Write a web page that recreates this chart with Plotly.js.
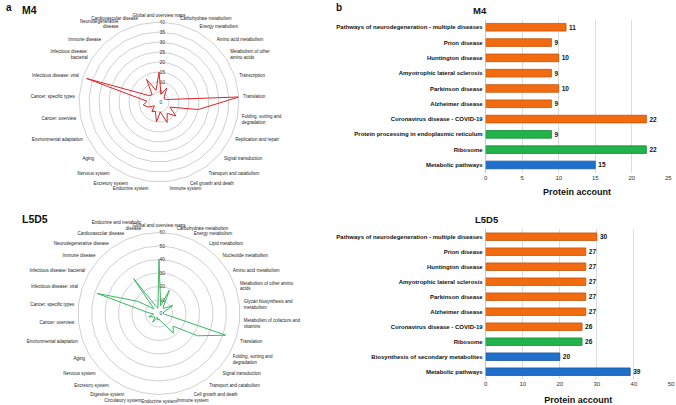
<!DOCTYPE html>
<html>
<head>
<meta charset="utf-8">
<script src="https://cdn.plot.ly/plotly-3.0.1.min.js"></script>
<style>html,body{margin:0;padding:0;background:#fff;}#chart{width:676px;height:405px;}</style>
</head>
<body>
<div id="chart"></div>
<script>
// ---------- Data ----------
const m4RadarCats = ["Global and overview maps","Carbohydrate metabolism","Energy metabolism","Amino acid metabolism","Metabolism of other amino acids","Transcription","Translation","Folding, sorting and degradation","Replication and repair","Signal transduction","Transport and catabolism","Cell growth and death","Immune system","Endocrine system","Excretory system","Nervous system","Aging","Environmental adaptation","Cancer: overview","Cancer: specific types","Infectious disease: viral","Infectious disease: bacterial","Immune disease","Neurodegenerative disease","Cardiovascular disease"];
const m4RadarLabels = ["Global and overview maps","Carbohydrate metabolism","Energy metabolism","Amino acid metabolism","Metabolism of other<br>amino acids","Transcription","Translation","Folding, sorting and<br>degradation","Replication and repair","Signal transduction","Transport and catabolism","Cell growth and death","Immune system","Endocrine system","Excretory system","Nervous system","Aging","Environmental adaptation","Cancer: overview","Cancer: specific types","Infectious disease: viral","Infectious disease:<br>bacterial","Immune disease","Neurodegenerative<br>disease","Cardiovascular disease"];
const m4RadarValues = [15,4,8,4,3,4,40,20,6,11,7,11,5,10,5,6,3,6,8,6,38,6,5,13,6];

const l5RadarCats = ["Global and overview maps","Carbohydrate metabolism","Energy metabolism","Lipid metabolism","Nucleotide metabolism","Amino acid metabolism","Metabolism of other amino acids","Glycan biosynthesis and metabolism","Metabolism of cofactors and vitamins","Translation","Folding, sorting and degradation","Signal transduction","Transport and catabolism","Cell growth and death","Immune system","Endocrine system","Circulatory system","Digestive system","Excretory system","Nervous system","Aging","Environmental adaptation","Cancer: overview","Cancer: specific types","Infectious disease: viral","Infectious disease: bacterial","Immune disease","Neurodegenerative disease","Cardiovascular disease","Endocrine and metabolic disease"];
const l5RadarLabels = ["Global and overview maps","Carbohydrate metabolism","Energy metabolism","Lipid metabolism","Nucleotide metabolism","Amino acid metabolism","Metabolism of other amino<br>acids","Glycan biosynthesis and<br>metabolism","Metabolism of cofactors and<br>vitamins","Translation","Folding, sorting and<br>degradation","Signal transduction","Transport and catabolism","Cell growth and death","Immune system","Endocrine system","Circulatory system","Digestive system","Excretory system","Nervous system","Aging","Environmental adaptation","Cancer: overview","Cancer: specific types","Infectious disease: viral","Infectious disease: bacterial","Immune disease","Neurodegenerative disease","Cardiovascular disease","Endocrine and metabolic<br>disease"];
const l5RadarValues = [40,6,19,5,6,12,4,3,4,52,33,14,18,8,6,4,5,3,8,4,5,8,4,9,48,18,5,32,6,4];

const m4BarCats = ["Pathways of neurodegeneration - multiple diseases","Prion disease","Huntington disease","Amyotrophic lateral sclerosis","Parkinson disease","Alzheimer disease","Coronavirus disease - COVID-19","Protein processing in endoplasmic reticulum","Ribosome","Metabolic pathways"];
const m4BarValues = [11,9,10,9,10,9,22,9,22,15];
const m4BarGroups = ["disease","disease","disease","disease","disease","disease","disease","genetic","genetic","metabolism"];

const l5BarCats = ["Pathways of neurodegeneration - multiple diseases","Prion disease","Huntington disease","Amyotrophic lateral sclerosis","Parkinson disease","Alzheimer disease","Coronavirus disease - COVID-19","Ribosome","Biosynthesis of secondary metabolites","Metabolic pathways"];
const l5BarValues = [30,27,27,27,27,27,26,26,20,39];
const l5BarGroups = ["disease","disease","disease","disease","disease","disease","disease","genetic","metabolism","metabolism"];

// ---------- Style ----------
const W = 676, H = 405;
const px = x => x / W;
const py = y => 1 - y / H;
const FONT = "Liberation Sans, Arial, sans-serif";
const groupColor = {disease: "#F26B10", genetic: "#22B34B", metabolism: "#1F70CC"};
const groupLine = {disease: "#C4530A", genetic: "#178A37", metabolism: "#16559E"};

const close = a => a.concat([a[0]]);

const traces = [
  {type: "scatterpolar", subplot: "polar", theta: close(m4RadarCats), r: close(m4RadarValues),
   mode: "lines", line: {color: "#D8262B", width: 1}, hoverinfo: "skip"},
  {type: "scatterpolar", subplot: "polar2", theta: close(l5RadarCats), r: close(l5RadarValues),
   mode: "lines", line: {color: "#3DB565", width: 1}, hoverinfo: "skip"},
  {type: "bar", orientation: "h", xaxis: "x", yaxis: "y", y: m4BarCats, x: m4BarValues,
   marker: {color: m4BarGroups.map(g => groupColor[g]), line: {color: m4BarGroups.map(g => groupLine[g]), width: 0.8}},
   text: m4BarValues.map(String), textposition: "outside", cliponaxis: false,
   textfont: {family: FONT, size: 6.5, color: "#111", weight: "bold"}, width: 0.5},
  {type: "bar", orientation: "h", xaxis: "x2", yaxis: "y2", y: l5BarCats, x: l5BarValues,
   marker: {color: l5BarGroups.map(g => groupColor[g]), line: {color: l5BarGroups.map(g => groupLine[g]), width: 0.8}},
   text: l5BarValues.map(String), textposition: "outside", cliponaxis: false,
   textfont: {family: FONT, size: 6.5, color: "#111", weight: "bold"}, width: 0.5}
];

function polarCfg(cx, cy, R, cats, labels, maxR, dt) {
  return {
    domain: {x: [px(cx - R), px(cx + R)], y: [py(cy + R), py(cy - R)]},
    bgcolor: "#fff",
    gridshape: "linear",
    hole: 0,
    radialaxis: {range: [0, maxR], dtick: dt, angle: 90, tickangle: 90, showline: false, ticks: "",
      gridcolor: "#c4c4c4", gridwidth: 0.8, tickfont: {family: FONT, size: 5, color: "#333"}, layer: "below traces"},
    angularaxis: {type: "category", categoryarray: cats, rotation: 90, direction: "clockwise",
      showgrid: false, showline: true, linecolor: "#c4c4c4", linewidth: 0.8,
      ticks: "outside", ticklen: 3, tickcolor: "#ffffff", tickwidth: 0.1,
      tickmode: "array", tickvals: cats, ticktext: labels,
      tickfont: {family: FONT, size: 4.5, color: "#222"}}
  };
}

const layout = {
  width: W, height: H,
  margin: {l: 0, r: 0, t: 0, b: 0},
  paper_bgcolor: "#fff", plot_bgcolor: "#fff",
  showlegend: false,
  font: {family: FONT},
  polar: polarCfg(159, 102, 80, m4RadarCats, m4RadarLabels, 40, 5),
  polar2: polarCfg(159, 313.5, 81, l5RadarCats, l5RadarLabels, 60, 10),
  xaxis: {domain: [px(485.7), px(668.3)], range: [0, 25], dtick: 5, anchor: "y",
    showgrid: true, gridcolor: "#dcdcdc", zeroline: true, zerolinecolor: "#c8c8c8", showline: false, ticks: "",
    tickfont: {family: FONT, size: 6, color: "#333"},
    title: {text: "Protein account", font: {family: FONT, size: 9, color: "#111", weight: "bold"}, standoff: 9}},
  yaxis: {domain: [py(172.6), py(19.6)], anchor: "x", autorange: "reversed", type: "category",
    showgrid: false, ticks: "", ticklabelstandoff: 2,
    tickfont: {family: FONT, size: 6, color: "#111", weight: "bold"}},
  xaxis2: {domain: [px(485.7), px(671)], range: [0, 50], dtick: 10, anchor: "y2",
    showgrid: true, gridcolor: "#dcdcdc", zeroline: true, zerolinecolor: "#c8c8c8", showline: false, ticks: "",
    tickfont: {family: FONT, size: 6, color: "#333"},
    title: {text: "Protein account", font: {family: FONT, size: 9, color: "#111", weight: "bold"}, standoff: 10}},
  yaxis2: {domain: [py(379.2), py(229.2)], anchor: "x2", autorange: "reversed", type: "category",
    showgrid: false, ticks: "", ticklabelstandoff: 2,
    tickfont: {family: FONT, size: 6, color: "#111", weight: "bold"}},
  bargap: 0.5,
  annotations: [
    {text: "a", x: px(4), y: py(8), xref: "paper", yref: "paper", xanchor: "left", yanchor: "middle", showarrow: false, font: {family: FONT, size: 10, color: "#111", weight: "bold"}},
    {text: "M4", x: px(20), y: py(10), xref: "paper", yref: "paper", xanchor: "left", yanchor: "middle", showarrow: false, font: {family: FONT, size: 10.5, color: "#111", weight: "bold"}},
    {text: "L5D5", x: px(20), y: py(219), xref: "paper", yref: "paper", xanchor: "left", yanchor: "middle", showarrow: false, font: {family: FONT, size: 10.5, color: "#111", weight: "bold"}},
    {text: "b", x: px(334), y: py(8), xref: "paper", yref: "paper", xanchor: "left", yanchor: "middle", showarrow: false, font: {family: FONT, size: 10, color: "#111", weight: "bold"}},
    {text: "M4", x: px(480), y: py(10), xref: "paper", yref: "paper", xanchor: "center", yanchor: "middle", showarrow: false, font: {family: FONT, size: 9.5, color: "#111", weight: "bold"}},
    {text: "L5D5", x: px(487), y: py(219), xref: "paper", yref: "paper", xanchor: "center", yanchor: "middle", showarrow: false, font: {family: FONT, size: 9.5, color: "#111", weight: "bold"}}
  ]
};

Plotly.newPlot("chart", traces, layout, {displayModeBar: false, staticPlot: true});
</script>
</body>
</html>
